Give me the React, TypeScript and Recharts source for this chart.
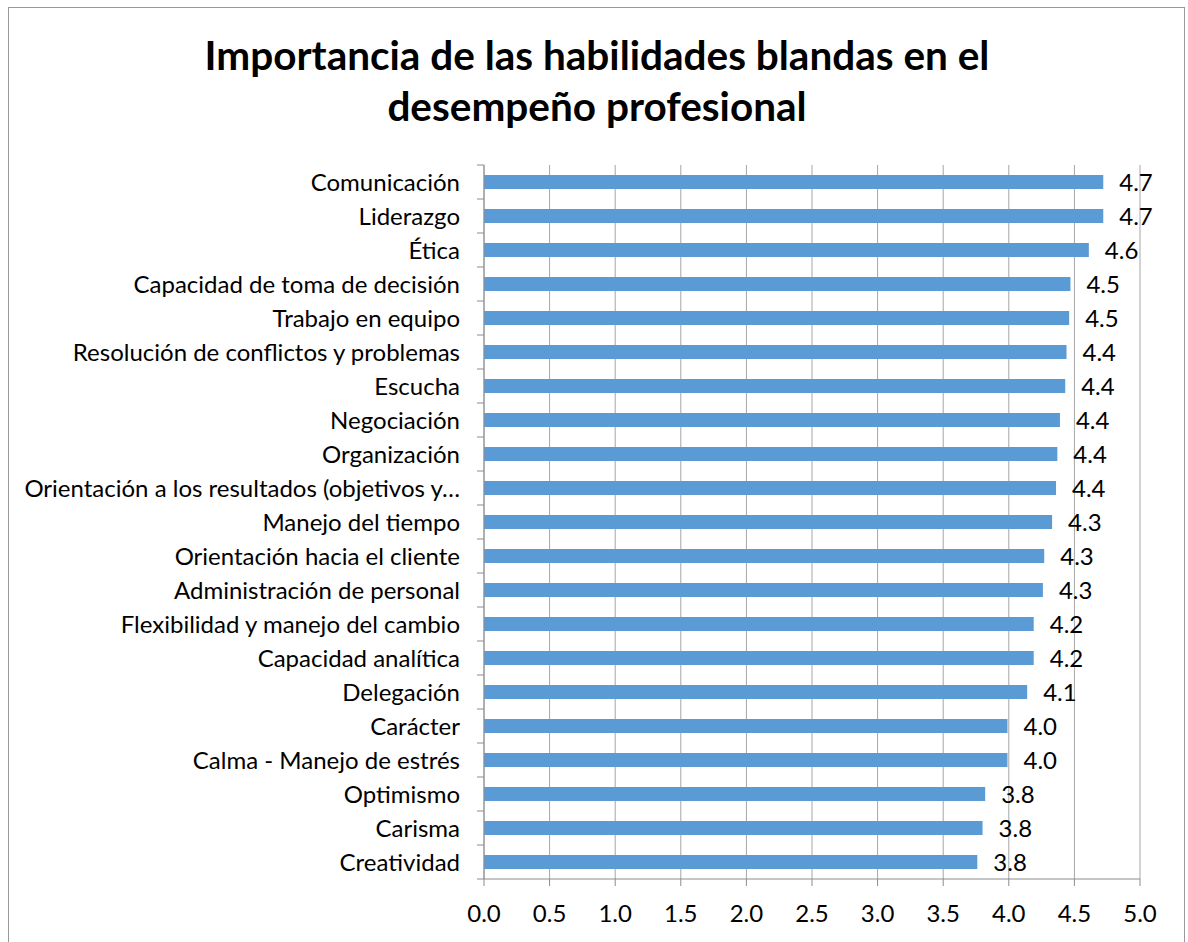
import React from "react";
import { BarChart, Bar, XAxis, YAxis, CartesianGrid, LabelList } from "recharts";

// Soft-skill names, top to bottom
const CATEGORIES = [
  "Comunicación",
  "Liderazgo",
  "Ética",
  "Capacidad de toma de decisión",
  "Trabajo en equipo",
  "Resolución de conflictos y problemas",
  "Escucha",
  "Negociación",
  "Organización",
  "Orientación a los resultados (objetivos y…",
  "Manejo del tiempo",
  "Orientación hacia el cliente",
  "Administración de personal",
  "Flexibilidad y manejo del cambio",
  "Capacidad analítica",
  "Delegación",
  "Carácter",
  "Calma - Manejo de estrés",
  "Optimismo",
  "Carisma",
  "Creatividad",
];

// Average importance score for each skill
const SCORES = [
  4.72, 4.72, 4.61, 4.47, 4.46, 4.44, 4.43, 4.39, 4.37, 4.36, 4.33, 4.27,
  4.26, 4.19, 4.19, 4.14, 3.99, 3.99, 3.82, 3.8, 3.76,
];

const X_TICKS = [0, 0.5, 1, 1.5, 2, 2.5, 3, 3.5, 4, 4.5, 5];

const TITLE_LINES = [
  "Importancia de las habilidades blandas en el",
  "desempeño profesional",
];

const FONT = "Lato, 'Open Sans', sans-serif";
const FONT_SIZE = 24;
const BAR_COLOR = "#5b9bd5";
const AXIS_COLOR = "#8c8c8c";
const GRID_COLOR = "#a6a6a6";

const data = CATEGORIES.map((name, i) => ({ name, score: SCORES[i] }));

// Category label with tick marks on the band boundaries
function CategoryTick(props: any) {
  const { x, y, payload, index } = props;
  const half = payload && payload.offset ? payload.offset : 17;
  const last = index === CATEGORIES.length - 1;
  return (
    <g>
      <line x1={x - 7} x2={x} y1={y - half} y2={y - half} stroke={AXIS_COLOR} strokeWidth={1} />
      {last && (
        <line x1={x - 7} x2={x} y1={y + half} y2={y + half} stroke={AXIS_COLOR} strokeWidth={1} />
      )}
      <text
        x={x - 24}
        y={y}
        dy="0.355em"
        textAnchor="end"
        fontFamily={FONT}
        fontSize={FONT_SIZE}
        fill="#000"
      >
        {payload.value}
      </text>
    </g>
  );
}

export default function App() {
  return (
    <div
      style={{
        position: "absolute",
        left: 0,
        top: 0,
        width: 1188,
        height: 942,
        overflow: "hidden",
        background: "#fff",
      }}
    >
      <div
        style={{
          position: "absolute",
          left: 8,
          top: 7,
          width: 1177,
          height: 1000,
          border: "1px solid #999",
          boxSizing: "border-box",
        }}
      />
      <svg
        width={1188}
        height={160}
        style={{ position: "absolute", left: 0, top: 0 }}
      >
        {TITLE_LINES.map((line, i) => (
          <text
            key={i}
            x={597}
            y={70 + i * 51}
            textAnchor="middle"
            fontFamily={FONT}
            fontWeight="bold"
            fontSize={40.5}
            fill="#000"
          >
            {line}
          </text>
        ))}
      </svg>
      <div style={{ position: "absolute", left: 0, top: 0 }}>
        <BarChart
          width={1188}
          height={942}
          data={data}
          layout="vertical"
          margin={{ top: 165, right: 48, bottom: 0, left: 0 }}
          barSize={14}
        >
          <CartesianGrid horizontal={false} vertical stroke={GRID_COLOR} strokeWidth={1} />
          <XAxis
            type="number"
            domain={[0, 5]}
            ticks={X_TICKS}
            interval={0}
            height={63}
            tickSize={7}
            tickMargin={19}
            tickFormatter={(v: number) => v.toFixed(1)}
            axisLine={{ stroke: AXIS_COLOR }}
            tickLine={{ stroke: AXIS_COLOR }}
            tick={{ fontFamily: FONT, fontSize: FONT_SIZE, fill: "#000" }}
          />
          <YAxis
            type="category"
            dataKey="name"
            width={484}
            interval={0}
            tickSize={0}
            tickMargin={0}
            tickLine={false}
            axisLine={{ stroke: AXIS_COLOR }}
            tick={<CategoryTick />}
          />
          <Bar dataKey="score" fill={BAR_COLOR} isAnimationActive={false}>
            <LabelList
              dataKey="score"
              position="right"
              offset={16}
              formatter={(v: any) => Number(v).toFixed(1)}
              fontFamily={FONT}
              fontSize={FONT_SIZE}
              fill="#000"
            />
          </Bar>
        </BarChart>
      </div>
    </div>
  );
}
